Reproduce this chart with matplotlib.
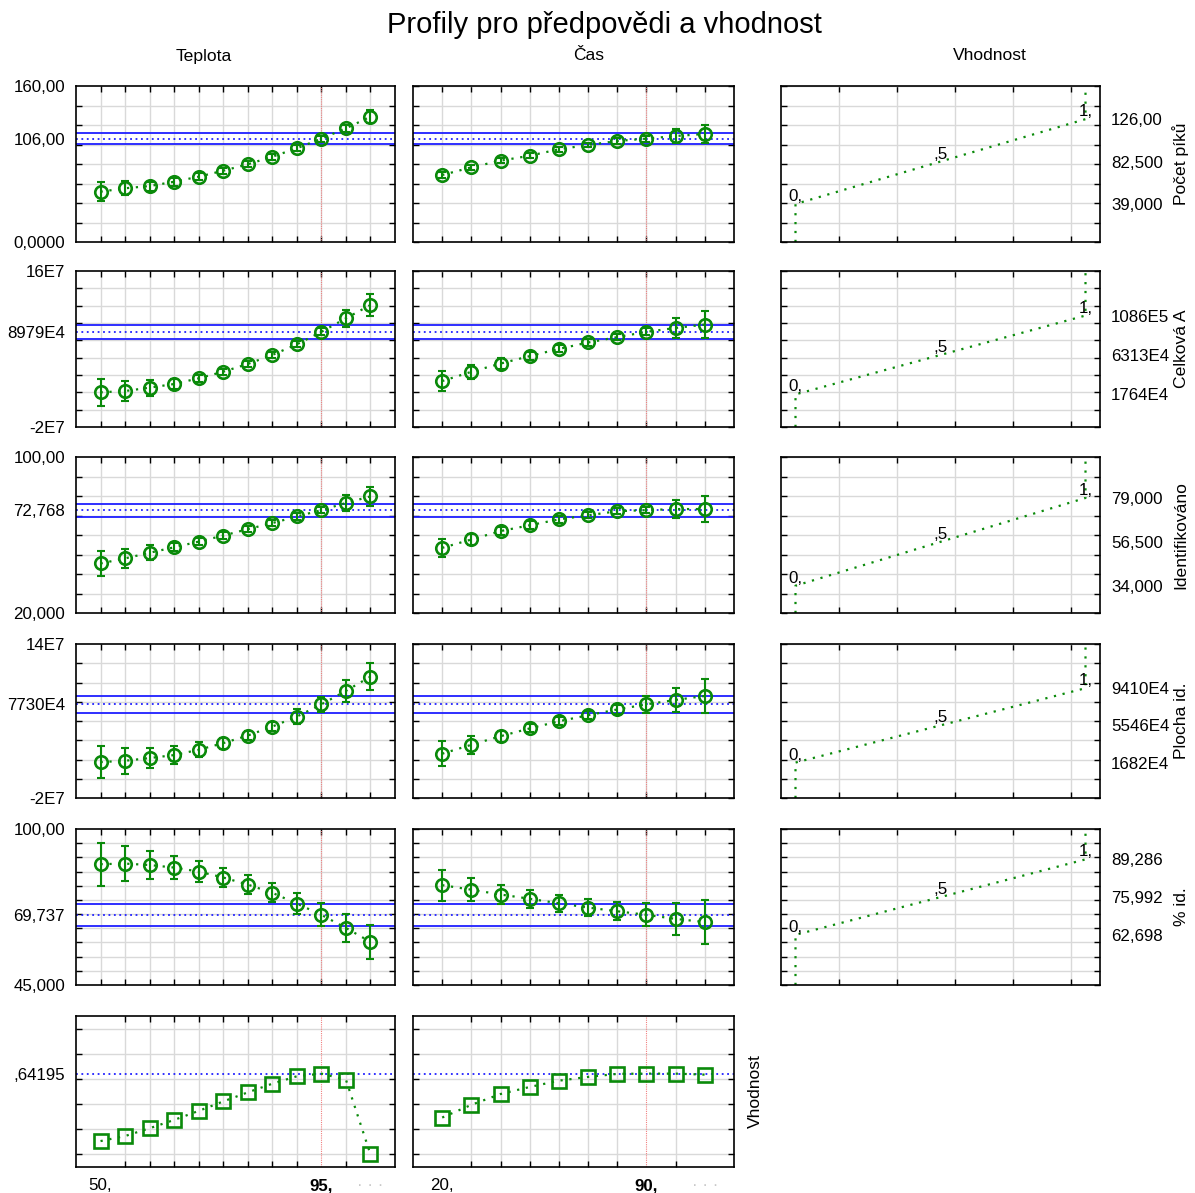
import matplotlib.pyplot as plt
from matplotlib import font_manager as fm
import numpy as np

# keep the regular (not narrow) Liberation Sans
fm.fontManager.ttflist = [f for f in fm.fontManager.ttflist if 'Narrow' not in f.fname]
plt.rcParams['font.family'] = ['Liberation Sans', 'DejaVu Sans']

W, H = 1195, 1193

# factors
teplota = [50, 55, 60, 65, 70, 75, 80, 85, 90, 95, 100, 105]
cas = [20, 30, 40, 50, 60, 70, 80, 90, 100, 110]
teplota_now = 95
cas_now = 90

# Počet píků
pik_t = [51.6, 55.1, 57.4, 61.8, 67.0, 73.1, 79.7, 87.5, 96.1, 106.0, 116.6, 128.5]
pik_t_err = [10.0, 7.4, 4.6, 4.0, 3.6, 3.2, 3.2, 3.2, 3.2, 3.2, 3.6, 6.8]
pik_c = [68.7, 76.6, 83.4, 88.5, 95.1, 99.5, 103.6, 106.0, 108.7, 110.8]
pik_c_err = [2.8, 2.6, 2.4, 2.4, 2.4, 2.4, 2.6, 3.0, 7.0, 9.7]
pik_ci = [100.5, 106.0, 111.5]

# Celková A
cel_t = [2.0e7, 2.15e7, 2.54e7, 2.96e7, 3.62e7, 4.38e7, 5.27e7, 6.31e7, 7.54e7, 8.979e7, 10.54e7, 12.08e7]
cel_t_err = [1.52e7, 1.2e7, 0.94e7, 0.55e7, 0.42e7, 0.36e7, 0.36e7, 0.36e7, 0.36e7, 0.42e7, 0.96e7, 1.25e7]
cel_c = [3.30e7, 4.37e7, 5.32e7, 6.18e7, 7.01e7, 7.75e7, 8.37e7, 8.979e7, 9.43e7, 9.82e7]
cel_c_err = [1.15e7, 0.8e7, 0.6e7, 0.45e7, 0.4e7, 0.36e7, 0.36e7, 0.4e7, 1.13e7, 1.57e7]
cel_ci = [8.12e7, 8.979e7, 9.77e7]

# Identifikováno
ide_t = [45.4, 48.0, 50.9, 53.7, 56.6, 59.7, 63.0, 66.1, 69.5, 72.768, 76.4, 79.8]
ide_t_err = [6.3, 5.0, 3.8, 2.1, 1.7, 1.6, 1.6, 1.6, 1.6, 1.6, 3.9, 4.9]
ide_c = [53.4, 57.7, 62.0, 65.0, 68.0, 70.1, 72.2, 72.768, 73.3, 73.3]
ide_c_err = [4.8, 2.6, 2.0, 2.0, 1.8, 1.6, 1.6, 1.6, 4.8, 6.5]
ide_ci = [69.1, 72.768, 76.0]

# Plocha id.
plo_t = [1.73e7, 1.87e7, 2.15e7, 2.46e7, 3.01e7, 3.70e7, 4.49e7, 5.42e7, 6.46e7, 7.73e7, 9.13e7, 10.61e7]
plo_t_err = [1.66e7, 1.33e7, 1.07e7, 0.9e7, 0.76e7, 0.57e7, 0.5e7, 0.5e7, 0.8e7, 0.78e7, 1.12e7, 1.38e7]
plo_c = [2.60e7, 3.53e7, 4.42e7, 5.23e7, 5.97e7, 6.60e7, 7.20e7, 7.73e7, 8.19e7, 8.60e7]
plo_c_err = [1.28e7, 0.91e7, 0.57e7, 0.42e7, 0.42e7, 0.42e7, 0.47e7, 0.87e7, 1.26e7, 1.74e7]
plo_ci = [6.81e7, 7.73e7, 8.64e7]

# % id.
pid_t = [87.6, 87.8, 87.3, 86.4, 85.0, 82.9, 80.4, 77.5, 73.7, 69.737, 65.1, 60.2]
pid_t_err = [7.6, 6.1, 4.9, 4.1, 3.6, 3.4, 3.4, 3.4, 3.7, 4.0, 4.8, 6.1]
pid_c = [80.2, 78.6, 76.9, 75.4, 73.8, 72.3, 71.0, 69.737, 68.3, 67.2]
pid_c_err = [5.5, 4.1, 3.3, 3.1, 2.9, 2.9, 3.2, 4.0, 5.5, 7.7]
pid_ci = [65.7, 69.737, 73.7]

# Vhodnost (desirability)
vh_t = [0.106, 0.146, 0.208, 0.274, 0.346, 0.421, 0.493, 0.562, 0.621, 0.642, 0.594, 0.0]
vh_c = [0.293, 0.394, 0.480, 0.536, 0.586, 0.616, 0.640, 0.642, 0.642, 0.634]
vh_now = 0.64195

# desirability settings (low, mid, high) and labels
des_vals = [[39.0, 82.5, 126.0], [1.764e7, 6.313e7, 10.86e7], [34.0, 56.5, 79.0],
            [1.682e7, 5.546e7, 9.410e7], [62.698, 75.992, 89.286]]
des_labels = [['39,000', '82,500', '126,00'], ['1764E4', '6313E4', '1086E5'],
              ['34,000', '56,500', '79,000'], ['1682E4', '5546E4', '9410E4'],
              ['62,698', '75,992', '89,286']]
resp_names = ['Počet píků', 'Celková A', 'Identifikováno', 'Plocha id.', '% id.']

# y scales
ylims = [(0, 160, 20), (-2e7, 16e7, 2e7), (20, 100, 10), (-2e7, 14e7, 2e7), (45, 100, 5)]
ylabels_left = [['0,0000', '106,00', '160,00'], ['-2E7', '8979E4', '16E7'],
                ['20,000', '72,768', '100,00'], ['-2E7', '7730E4', '14E7'],
                ['45,000', '69,737', '100,00']]

rows_t = [(pik_t, pik_t_err), (cel_t, cel_t_err), (ide_t, ide_t_err), (plo_t, plo_t_err), (pid_t, pid_t_err)]
rows_c = [(pik_c, pik_c_err), (cel_c, cel_c_err), (ide_c, ide_c_err), (plo_c, plo_c_err), (pid_c, pid_c_err)]
cis = [pik_ci, cel_ci, ide_ci, plo_ci, pid_ci]

GREEN = '#0a8a0a'
BLUE = '#1f1fff'
GRID = '#d9d9d9'
FS = 12.2
FL = 12.6

cols = [(76, 395), (413, 734), (781, 1100)]
rows = [(86, 242), (271, 427), (457, 613), (644, 798), (829, 985), (1016, 1167)]

fig = plt.figure(figsize=(W / 100, H / 100), dpi=100)


def add_ax(c, r):
    x0, x1 = cols[c]
    y0, y1 = rows[r]
    ax = fig.add_axes([x0 / W, 1 - y1 / H, (x1 - x0) / W, (y1 - y0) / H])
    for s in ax.spines.values():
        s.set_linewidth(1.2)
    ax.tick_params(which='minor', direction='in', length=4, width=1,
                   top=True, right=True, bottom=True, left=True)
    ax.tick_params(which='major', length=0, labelsize=FS, pad=8)
    ax.grid(which='minor', color=GRID, lw=1)
    ax.set_axisbelow(True)
    return ax


def profile(ax, x, y, err, xnow, xlim, ylim, grid_y, marker='o'):
    ax.plot(x, y, color=GREEN, ls=(0, (1, 3)), lw=1.6, zorder=3)
    if err is not None:
        ax.errorbar(x, y, yerr=err, fmt='none', ecolor=GREEN, elinewidth=1.5,
                    capsize=3, capthick=1.5, zorder=4)
    ms = 9 if marker == 'o' else 9.5
    ax.plot(x, y, ls='none', marker=marker, ms=ms, mfc='none', mec=GREEN, mew=1.9, zorder=5)
    ax.axvline(xnow, color='#f08080', ls=(0, (1, 1)), lw=0.8, zorder=2)
    ax.set_xlim(*xlim)
    ax.set_ylim(*ylim)
    ax.set_xticks(x, minor=True)
    ax.set_yticks(grid_y, minor=True)
    ax.set_xticks([])


for i in range(5):
    lo, hi, st = ylims[i]
    grid_y = np.arange(lo, hi + st / 2, st)
    ci = cis[i]
    # Teplota
    ax = add_ax(0, i)
    profile(ax, teplota, rows_t[i][0], rows_t[i][1], teplota_now, (45, 110), (lo, hi), grid_y)
    ax.set_yticks([lo, ci[1], hi])
    ax.set_yticklabels(ylabels_left[i])
    for v, ls in zip(ci, ['-', (0, (1, 2)), '-']):
        ax.axhline(v, color=BLUE, lw=1.3, ls=ls, zorder=2.5)
    # Čas
    ax = add_ax(1, i)
    profile(ax, cas, rows_c[i][0], rows_c[i][1], cas_now, (10, 120), (lo, hi), grid_y)
    ax.set_yticks([])
    for v, ls in zip(ci, ['-', (0, (1, 2)), '-']):
        ax.axhline(v, color=BLUE, lw=1.3, ls=ls, zorder=2.5)
    # Vhodnost
    ax = add_ax(2, i)
    dlo, dmid, dhi = des_vals[i]
    ax.plot([0, 0, 1, 1], [lo, dlo, dhi, hi], color=GREEN, ls=(0, (1, 3)), lw=1.6)
    for xx, yy, t in zip([0, 0.5, 1], [dlo, dmid, dhi], ['0,', ',5', '1,']):
        ax.text(xx, yy, t, ha='center', va='bottom', fontsize=FS)
    ax.set_xlim(-0.05, 1.05)
    ax.set_ylim(lo, hi)
    ax.set_xticks([0.15, 0.35, 0.55, 0.75, 0.95], minor=True)
    ax.set_yticks(grid_y, minor=True)
    ax.set_xticks([])
    ax.set_yticks(des_vals[i])
    ax.set_yticklabels(des_labels[i])
    ax.tick_params(which='major', labelleft=False, labelright=True)
    fig.text(1181 / W, 1 - (rows[i][0] + rows[i][1]) / 2 / H, resp_names[i],
             rotation=90, ha='center', va='center', fontsize=FL)

# Vhodnost row
vgrid = np.arange(0, 1.01, 0.2)
ax = add_ax(0, 5)
profile(ax, teplota, vh_t, None, teplota_now, (45, 110), (-0.1, 1.1), vgrid, marker='s')
ax.axhline(vh_now, color=BLUE, lw=1.3, ls=(0, (1, 2)), zorder=2.5)
ax.set_yticks([vh_now])
ax.set_yticklabels([',64195'])
ax.set_xticks([teplota[0], teplota_now, teplota[-1]])
lbls = ax.set_xticklabels(['50,', '95,', '· · ·'])
lbls[1].set_fontweight('bold')
lbls[2].set_color('#c8c8c8')

ax = add_ax(1, 5)
profile(ax, cas, vh_c, None, cas_now, (10, 120), (-0.1, 1.1), vgrid, marker='s')
ax.axhline(vh_now, color=BLUE, lw=1.3, ls=(0, (1, 2)), zorder=2.5)
ax.set_yticks([])
ax.set_xticks([cas[0], cas_now, cas[-1]])
lbls = ax.set_xticklabels(['20,', '90,', '· · ·'])
lbls[1].set_fontweight('bold')
lbls[2].set_color('#c8c8c8')
fig.text(755 / W, 1 - (rows[5][0] + rows[5][1]) / 2 / H, 'Vhodnost',
         rotation=90, ha='center', va='center', fontsize=FL)

# headers
fig.text(604 / W, 1 - 25 / H, 'Profily pro předpovědi a vhodnost', ha='center', va='center', fontsize=21)
fig.text(204 / W, 1 - 56 / H, 'Teplota', ha='center', va='center', fontsize=FL)
fig.text(589 / W, 1 - 56 / H, 'Čas', ha='center', va='center', fontsize=FL)
fig.text(990 / W, 1 - 56 / H, 'Vhodnost', ha='center', va='center', fontsize=FL)

fig.savefig('out.png', dpi=100)
